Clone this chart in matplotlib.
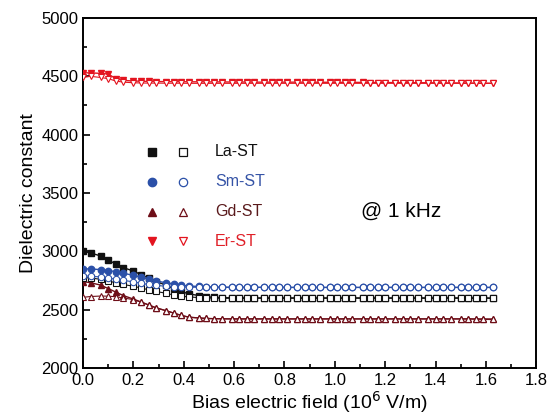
import numpy as np
import matplotlib
matplotlib.use('Agg')
import matplotlib.pyplot as plt
from matplotlib.ticker import MultipleLocator, FormatStrFormatter

plt.rcParams['font.family'] = ['Liberation Sans', 'DejaVu Sans']

# bias field, 10^6 V/m
field = [0.00, 0.03, 0.07, 0.10, 0.13, 0.16, 0.20, 0.23, 0.26, 0.29,
         0.33, 0.36, 0.39, 0.42, 0.46, 0.49, 0.52, 0.55, 0.59, 0.62,
         0.65, 0.68, 0.72, 0.75, 0.78, 0.81, 0.85, 0.88, 0.91, 0.94,
         0.98, 1.01, 1.04, 1.07, 1.11, 1.14, 1.17, 1.20, 1.24, 1.27,
         1.30, 1.33, 1.37, 1.40, 1.43, 1.46, 1.50, 1.53, 1.56, 1.59, 1.63]

# filled = increasing field, open = decreasing field
la_up = [3000, 2985, 2960, 2925, 2890, 2860, 2830, 2800, 2770, 2740,
         2710, 2680, 2655, 2635, 2620, 2610, 2605, 2602, 2601, 2600,
         2600, 2600, 2600, 2600, 2600, 2600, 2600, 2600, 2600, 2600,
         2600, 2600, 2600, 2600, 2600, 2600, 2600, 2600, 2600, 2600,
         2600, 2600, 2600, 2600, 2600, 2600, 2600, 2600, 2600, 2600, 2598]
la_down = [2775, 2770, 2760, 2745, 2730, 2715, 2700, 2685, 2670, 2655,
           2640, 2625, 2615, 2608, 2603, 2600, 2598, 2597, 2597, 2597,
           2597, 2597, 2597, 2597, 2597, 2597, 2597, 2597, 2597, 2597,
           2597, 2597, 2597, 2597, 2597, 2597, 2597, 2597, 2597, 2597,
           2597, 2597, 2597, 2597, 2597, 2597, 2597, 2597, 2597, 2597, 2597]

sm_up = [2850, 2848, 2843, 2835, 2825, 2810, 2795, 2778, 2760, 2745,
         2730, 2718, 2708, 2702, 2698, 2695, 2693, 2692, 2692, 2691,
         2691, 2691, 2691, 2691, 2691, 2690, 2690, 2690, 2690, 2690,
         2690, 2690, 2690, 2690, 2690, 2690, 2690, 2690, 2690, 2690,
         2690, 2690, 2690, 2690, 2690, 2690, 2690, 2690, 2690, 2690, 2690]
sm_down = [2790, 2785, 2780, 2770, 2760, 2750, 2738, 2725, 2715, 2707,
           2700, 2696, 2693, 2692, 2691, 2690, 2690, 2690, 2690, 2690,
           2690, 2690, 2690, 2690, 2690, 2690, 2690, 2690, 2690, 2690,
           2690, 2690, 2690, 2690, 2690, 2690, 2690, 2690, 2690, 2690,
           2690, 2690, 2690, 2690, 2690, 2690, 2690, 2690, 2690, 2690, 2690]

gd_up = [2740, 2730, 2710, 2680, 2650, 2620, 2590, 2565, 2540, 2515,
         2490, 2470, 2450, 2435, 2428, 2424, 2422, 2421, 2420, 2420,
         2420, 2420, 2420, 2420, 2420, 2420, 2420, 2420, 2420, 2420,
         2420, 2420, 2420, 2420, 2420, 2420, 2420, 2420, 2420, 2420,
         2420, 2420, 2420, 2420, 2420, 2420, 2420, 2420, 2418, 2417, 2415]
gd_down = [2605, 2612, 2616, 2615, 2610, 2600, 2585, 2565, 2540, 2515,
           2490, 2470, 2450, 2435, 2428, 2424, 2422, 2421, 2420, 2420,
           2420, 2420, 2420, 2420, 2420, 2420, 2420, 2420, 2420, 2420,
           2420, 2420, 2420, 2420, 2420, 2420, 2420, 2420, 2420, 2420,
           2420, 2420, 2420, 2420, 2420, 2420, 2420, 2420, 2420, 2420, 2420]

er_up = [4530, 4530, 4525, 4520, 4480, 4465, 4460, 4458, 4456, 4455,
         4455, 4454, 4454, 4453, 4453, 4452, 4452, 4452, 4451, 4451,
         4451, 4450, 4450, 4450, 4450, 4450, 4450, 4450, 4450, 4449,
         4449, 4449, 4448, 4448, 4448, 4447, 4447, 4447, 4446, 4446,
         4446, 4445, 4445, 4444, 4444, 4443, 4443, 4442, 4442, 4441, 4440]
er_down = [4490, 4500, 4490, 4480, 4460, 4450, 4445, 4443, 4442, 4442,
           4441, 4441, 4441, 4440, 4440, 4440, 4440, 4440, 4440, 4440,
           4440, 4440, 4440, 4440, 4440, 4440, 4440, 4440, 4440, 4440,
           4440, 4440, 4440, 4440, 4440, 4440, 4440, 4440, 4440, 4440,
           4440, 4440, 4440, 4440, 4440, 4440, 4440, 4440, 4440, 4440, 4440]

names = ['La-ST', 'Sm-ST', 'Gd-ST', 'Er-ST']
markers = ['s', 'o', '^', 'v']
colors = ['#111111', '#2b50a8', '#6e0e18', '#e3141f']
text_colors = ['#111111', '#3553a6', '#5a1a1c', '#e02028']
ups = [la_up, sm_up, gd_up, er_up]
downs = [la_down, sm_down, gd_down, er_down]

fig = plt.figure(figsize=(5.5, 4.19), dpi=100)
ax = fig.add_axes([0.151, 0.122, 0.824, 0.835])

for up, down, m, c in zip(ups, downs, markers, colors):
    ax.plot(field, up, color=c, lw=1.0, marker=m, ms=4.6, mec=c, mfc=c, zorder=3)
    ax.plot(field, down, color=c, lw=0.8, marker=m, ms=4.6, mec=c, mfc='white',
            mew=0.8, zorder=4)

# hand-made legend: filled / open marker pairs
leg_y = [3855, 3595, 3338, 3085]
for name, m, c, tc, y in zip(names, markers, colors, text_colors, leg_y):
    ax.plot([0.274], [y], marker=m, ms=6, color=c, ls='none')
    ax.plot([0.397], [y], marker=m, ms=6, mec=c, mfc='white', mew=0.9, ls='none')
    ax.text(0.525, y, name, color=tc, fontsize=11.5, va='center', ha='left')

ax.text(1.105, 3345, '@ 1 kHz', fontsize=15, va='center', ha='left')

ax.set_xlim(0, 1.8)
ax.set_ylim(2000, 5000)
ax.xaxis.set_major_locator(MultipleLocator(0.2))
ax.xaxis.set_minor_locator(MultipleLocator(0.1))
ax.xaxis.set_major_formatter(FormatStrFormatter('%.1f'))
ax.yaxis.set_major_locator(MultipleLocator(500))
ax.yaxis.set_minor_locator(MultipleLocator(250))
ax.tick_params(which='both', direction='in', top=False, right=False,
               labelsize=12, width=1.2)
ax.tick_params(which='major', length=5)
ax.tick_params(which='minor', length=3)
for s in ax.spines.values():
    s.set_linewidth(1.4)

ax.set_xlabel('Bias electric field (10$^{6}$ V/m)', fontsize=14, labelpad=1)
ax.set_ylabel('Dielectric constant', fontsize=14, labelpad=3)

fig.savefig('out.png', dpi=100)
